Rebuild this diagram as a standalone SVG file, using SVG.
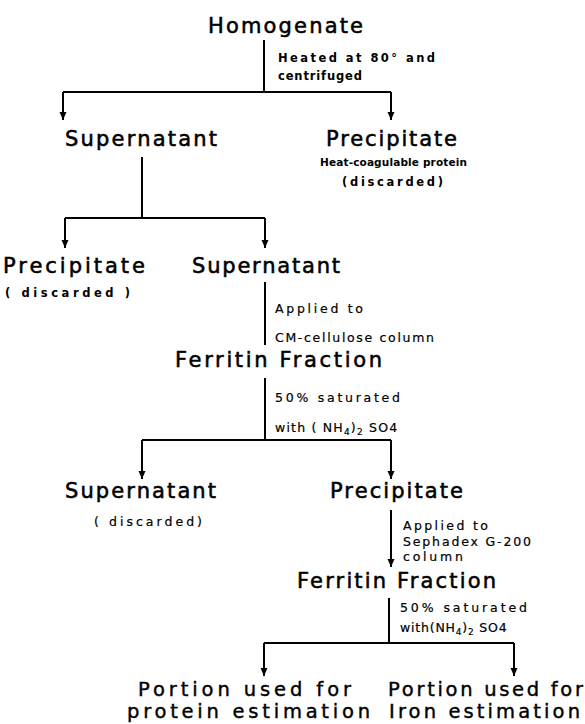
<svg xmlns="http://www.w3.org/2000/svg" width="585" height="724" viewBox="0 0 585 724">
<style>
text{font-family:"DejaVu Sans","Liberation Sans",sans-serif;fill:#000}
.big{font-size:21px;stroke:#000;stroke-width:0.55}
.bot{font-size:19.5px;stroke:#000;stroke-width:0.4}
.sm{font-size:12.5px;stroke:#000;stroke-width:0.2}
.smb{font-size:11.5px;font-weight:bold}
.ln{stroke:#000;stroke-width:2;fill:none}
</style>
<defs>
<marker id="ah" viewBox="0 0 8 8" refX="8" refY="4" markerWidth="8" markerHeight="8" markerUnits="userSpaceOnUse" orient="auto">
<path d="M0,0.5 L8,4 L0,7.5 z" fill="#000"/>
</marker>
</defs>
<rect width="585" height="724" fill="#fff"/>
<g id="connectors">
<path class="ln" d="M264,40 V92 M63,92 H391 M142,157 V218 M65,218 H265 M265,282 V345 M265,378 V440 M142,440 H391 M389,598 V643 M264,643 H514"/>
<path class="ln" marker-end="url(#ah)" d="M63,92 V120"/>
<path class="ln" marker-end="url(#ah)" d="M391,92 V120"/>
<path class="ln" marker-end="url(#ah)" d="M65,218 V248"/>
<path class="ln" marker-end="url(#ah)" d="M265,218 V248"/>
<path class="ln" marker-end="url(#ah)" d="M142,440 V479"/>
<path class="ln" marker-end="url(#ah)" d="M391,440 V479"/>
<path class="ln" marker-end="url(#ah)" d="M391,510 V567"/>
<path class="ln" marker-end="url(#ah)" d="M264,643 V676"/>
<path class="ln" marker-end="url(#ah)" d="M514,643 V676"/>
</g>
<g id="homogenate"><text class="big" x="208" y="33" textLength="155" lengthAdjust="spacing">Homogenate</text></g>
<g id="step1-label">
<text class="smb" x="278" y="62" textLength="157" lengthAdjust="spacing">Heated at 80° and</text>
<text class="smb" x="278" y="80" textLength="84" lengthAdjust="spacing">centrifuged</text>
</g>
<g id="supernatant1"><text class="big" x="65" y="146" textLength="152" lengthAdjust="spacing">Supernatant</text></g>
<g id="precipitate1">
<text class="big" x="326" y="146" textLength="131" lengthAdjust="spacing">Precipitate</text>
<text class="smb" x="320" y="166" font-size="10.5" textLength="147" lengthAdjust="spacing" style="font-size:10.5px">Heat-coagulable protein</text>
<text class="smb" x="342" y="186" textLength="101" lengthAdjust="spacing">(discarded)</text>
</g>
<g id="precipitate2">
<text class="big" x="3" y="273" textLength="142" lengthAdjust="spacing">Precipitate</text>
<text class="smb" x="5" y="297" textLength="125" lengthAdjust="spacing">( discarded )</text>
</g>
<g id="supernatant2"><text class="big" x="192" y="273" textLength="148" lengthAdjust="spacing">Supernatant</text></g>
<g id="step2-label">
<text class="sm" x="275" y="313" textLength="88" lengthAdjust="spacing">Applied to</text>
<text class="sm" x="275" y="342" textLength="159" lengthAdjust="spacing">CM-cellulose column</text>
</g>
<g id="ferritin1"><text class="big" x="175" y="367" textLength="207" lengthAdjust="spacing">Ferritin Fraction</text></g>
<g id="step3-label">
<text class="sm" x="275" y="402" textLength="125" lengthAdjust="spacing">50% saturated</text>
<text class="sm" x="275" y="432" letter-spacing="1.2">with ( NH<tspan dy="3" font-size="9">4</tspan><tspan dy="-3">)</tspan><tspan dy="3" font-size="9">2</tspan><tspan dy="-3"> SO4</tspan></text>
</g>
<g id="supernatant3">
<text class="big" x="65" y="498" textLength="151" lengthAdjust="spacing">Supernatant</text>
<text class="sm" x="94" y="526" textLength="108" lengthAdjust="spacing">( discarded)</text>
</g>
<g id="precipitate3"><text class="big" x="330" y="498" textLength="133" lengthAdjust="spacing">Precipitate</text></g>
<g id="step4-label">
<text class="sm" x="403" y="530" textLength="85" lengthAdjust="spacing">Applied to</text>
<text class="sm" x="403" y="546" textLength="128" lengthAdjust="spacing">Sephadex G-200</text>
<text class="sm" x="403" y="561" textLength="60" lengthAdjust="spacing">column</text>
</g>
<g id="ferritin2"><text class="big" x="297" y="588" textLength="199" lengthAdjust="spacing">Ferritin Fraction</text></g>
<g id="step5-label">
<text class="sm" x="400" y="612" textLength="127" lengthAdjust="spacing">50% saturated</text>
<text class="sm" x="400" y="632" letter-spacing="0.8">with(NH<tspan dy="3" font-size="9">4</tspan><tspan dy="-3">)</tspan><tspan dy="3" font-size="9">2</tspan><tspan dy="-3"> SO4</tspan></text>
</g>
<g id="portion-protein">
<text class="bot" x="138" y="696" textLength="213" lengthAdjust="spacing">Portion used for</text>
<text class="bot" x="127" y="718" textLength="243" lengthAdjust="spacing">protein estimation</text>
</g>
<g id="portion-iron">
<text class="bot" x="388" y="696" textLength="195" lengthAdjust="spacing">Portion used for</text>
<text class="bot" x="389" y="718" textLength="191" lengthAdjust="spacing">Iron estimation</text>
</g>
</svg>
